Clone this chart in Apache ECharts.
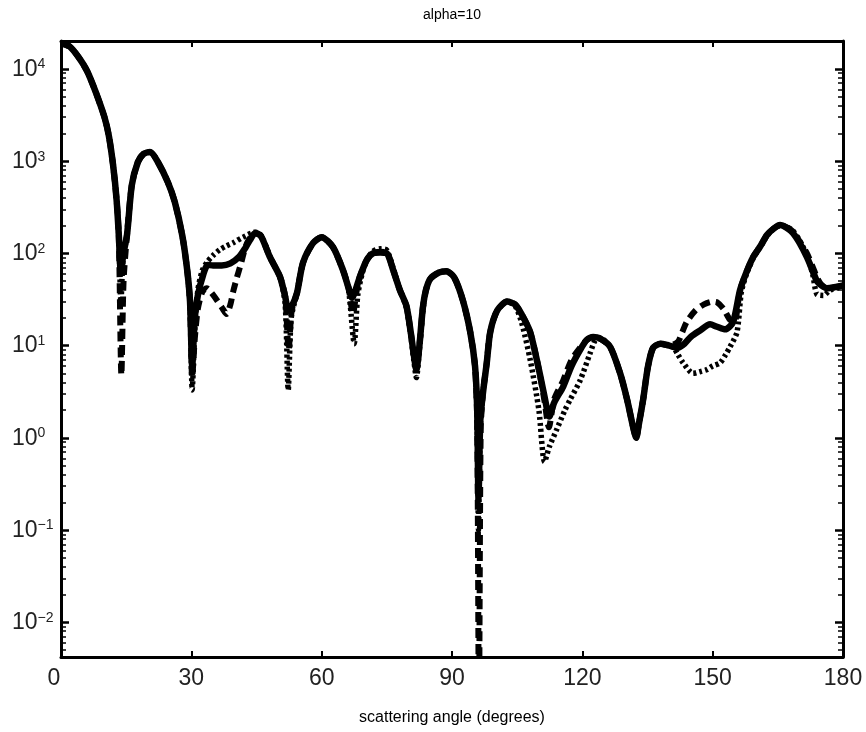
<!DOCTYPE html>
<html>
<head>
<meta charset="utf-8">
<script src="https://cdn.jsdelivr.net/npm/echarts@6/dist/echarts.min.js"></script>
<style>html,body{margin:0;padding:0;background:#fff}#chart{width:866px;height:732px}</style>
</head>
<body>
<div id="chart"></div>
<script>
// ---------------- data ----------------
const titleText = 'alpha=10';
const xAxisName = 'scattering angle (degrees)';
const xTickValues = [0, 30, 60, 90, 120, 150, 180];
const yMajorExponents = [-2, -1, 0, 1, 2, 3, 4];
const yMinorMultipliers = [2, 3, 4, 5, 6, 7, 8, 9];
const yMin = 0.0042, yMax = 20100;

const solidAngles = [
  0, 2, 4, 6, 8, 10, 11, 12, 12.8, 13.3,
  13.8, 14.3, 15.2, 16.3, 17.7, 19, 20.5, 22.3, 24.6, 26.2,
  27.9, 29, 29.7, 30.2, 30.8, 31.5, 32.7, 33.8, 35, 37,
  39, 41, 42.4, 43.5, 44.7, 46, 48.1, 50.4, 51.6, 52.3,
  53, 54.3, 55.7, 58, 60, 62.6, 64.9, 66.2, 67, 67.8,
  68.8, 70.4, 71.8, 73.5, 75, 76.5, 78, 79.5, 80.5, 81.2,
  81.8, 82.5, 83.3, 84, 85, 87, 88.7, 90.5, 92.5, 94.2,
  95.3, 95.8, 96.1, 96.5, 97.1, 98, 98.8, 100.4, 102.7, 104.5,
  106, 108, 110, 111.3, 112.4, 113.5, 115.6, 117.5, 119.5, 121,
  122.5, 124, 126.4, 128.7, 130.3, 131.7, 132.4, 133, 134, 135.1,
  136.3, 138, 140, 142, 143.5, 145, 147, 149.4, 151, 152.9,
  154.7, 156.3, 157.8, 159.3, 161, 162.5, 164, 165.5, 167, 168.5,
  170, 171.7, 173, 174, 175, 176.3, 178, 180
];
const solidValues = [
  19000, 17500, 13500, 9500, 5600, 3000, 1900, 900, 380, 160,
  60, 95, 160, 550, 980, 1200, 1260, 980, 590, 360,
  158, 69, 30, 6, 20, 35, 58, 75, 74, 74,
  78, 92, 114, 140, 166, 155, 91, 56, 34, 24,
  26, 37, 79, 129, 150, 117, 66, 42, 33, 40,
  56, 85, 100, 102, 100, 65, 40, 27, 14, 8,
  5.5, 10, 26, 40, 53, 62, 64, 55, 31, 14,
  6, 2, 0.22, 1.5, 3, 6.5, 14, 24, 30, 28,
  22, 14, 5.5, 2.8, 1.7, 2.4, 3.6, 6, 9, 11.5,
  12.4, 12, 9.7, 5, 2.6, 1.3, 1.0, 1.4, 2.6, 5.9,
  9.5, 10.5, 10, 9.5, 10.5, 12.5, 14.5, 17, 16, 15,
  18, 40, 63, 91, 120, 158, 185, 203, 190, 166,
  130, 91, 65, 50, 45, 42, 43, 45
];

const dashedAngles = [
  0, 2, 4, 6, 8, 10, 11, 12, 12.8, 13.3,
  13.9, 14.4, 15.2, 16.3, 17.7, 19, 20.5, 22.3, 24.6, 26.2,
  27.9, 29, 29.7, 30.2, 30.8, 31.5, 32.5, 33.5, 34.5, 35.5,
  37, 38.1, 39, 39.6, 40.5, 41.2, 42.8, 44.7, 46, 48.1,
  50.4, 51.6, 52.4, 53.1, 54.3, 55.7, 58, 60, 62.6, 64.9,
  66.2, 67.2, 68, 68.8, 70.4, 71.8, 73.5, 75, 76.5, 78,
  79.5, 80.5, 81.2, 81.8, 82.5, 83.3, 84, 85, 87, 88.7,
  90.5, 92.5, 94.2, 95.3, 95.8, 96.2, 96.6, 97.1, 98, 98.8,
  100.4, 102.7, 104.5, 106, 108, 110, 111.3, 112.3, 113.5, 115.6,
  117.5, 119.5, 121, 122.5, 124, 126.4, 128.7, 130.3, 131.7, 132.4,
  133, 134, 135.1, 136.3, 138, 140, 142, 143, 144, 146,
  148, 150, 151, 152.5, 154, 155, 156.3, 157.8, 159.3, 161,
  162.5, 164, 165.5, 167, 168.5, 170, 171.7, 173, 174, 175,
  176.3, 178, 180
];
const dashedValues = [
  19000, 17500, 13500, 9500, 5600, 3000, 1900, 900, 380, 160,
  4.8, 50, 160, 550, 980, 1200, 1260, 980, 590, 360,
  158, 69, 30, 4.5, 12, 25, 38, 42, 38, 33,
  26, 22, 28, 38, 55, 71, 129, 166, 155, 91,
  56, 34, 9, 24, 37, 79, 129, 150, 117, 66,
  42, 22, 38, 56, 85, 100, 104, 102, 65, 40,
  27, 14, 8, 5.5, 10, 26, 40, 53, 62, 64,
  55, 31, 14, 6, 1.5, 0.001, 1.2, 3, 6.5, 14,
  24, 30, 28, 22, 14, 5.5, 2.5, 1.3, 2.6, 4.2,
  7, 9.5, 11.5, 12.4, 12, 9.7, 5, 2.6, 1.3, 1.0,
  1.4, 2.6, 5.9, 9.5, 10.5, 10, 11, 14, 18, 24,
  28, 30, 29.5, 25, 19, 18, 40, 63, 91, 120,
  158, 185, 203, 192, 172, 135, 100, 72, 55, 46,
  42, 43, 45
];

const dottedAngles = [
  0, 2, 4, 6, 8, 10, 11, 12, 12.8, 13.3,
  13.8, 14.3, 15.2, 16.3, 17.7, 19, 20.5, 22.3, 24.6, 26.2,
  27.9, 29, 29.7, 30.2, 30.8, 31.5, 32.5, 33.6, 35, 36.6,
  38, 39.6, 41.9, 44.7, 46, 48.1, 50.4, 51.6, 52.3, 53,
  54.3, 55.7, 58, 60, 62.6, 64.9, 66.2, 67.5, 68.3, 69.3,
  70.4, 71.8, 73.5, 75, 76.5, 78, 79.5, 80.5, 81.2, 81.8,
  82.5, 83.3, 84, 85, 87, 88.7, 90.5, 92.5, 94.2, 95.3,
  95.8, 96.1, 96.5, 97.1, 98, 98.8, 100.4, 102.7, 104.5, 106,
  108, 110, 111.3, 112.4, 114, 116, 117.2, 119.5, 121.8, 123,
  124.2, 126.4, 128.7, 130.3, 131.7, 132.4, 133, 134, 135.1, 136.3,
  138, 140, 141, 142, 143.2, 145.5, 147, 148.7, 150, 151.7,
  153, 154, 155.6, 156.6, 157.8, 159.3, 161, 162.5, 164, 165.5,
  167, 168.5, 170, 171.7, 173, 174, 175.5, 177, 178.5, 180
];
const dottedValues = [
  19000, 17500, 13500, 9500, 5600, 3000, 1900, 900, 380, 160,
  30, 90, 160, 550, 980, 1200, 1260, 980, 590, 360,
  158, 69, 28, 3.3, 15, 40, 65, 80, 95, 110,
  120, 130, 150, 170, 158, 93, 55, 28, 3.3, 20,
  37, 79, 129, 150, 117, 66, 40, 10.5, 35, 60,
  85, 105, 112, 108, 68, 40, 26, 13, 7, 4.5,
  9, 24, 40, 53, 62, 64, 55, 31, 14, 6,
  1.5, 0.1, 1.2, 3, 6.5, 14, 24, 30, 27, 18,
  7, 2, 0.55, 0.8, 1.2, 2, 2.6, 4.2, 8.3, 11.5,
  12, 9.7, 5, 2.6, 1.3, 1.0, 1.4, 2.6, 5.9, 9.5,
  10.5, 10, 9.5, 8, 6.5, 5, 5.2, 5.5, 6, 6.5,
  8, 9.7, 14, 38, 60, 88, 118, 155, 185, 200,
  195, 175, 138, 95, 60, 36, 35, 40, 42, 44
];

// ---------------- chart ----------------
const FONT = '"Liberation Sans", Arial, Helvetica, sans-serif';
const yMinLog = Math.log10(yMin), yMaxLog = Math.log10(yMax);
const yMinorLogs = [];
for (let e = -3; e <= 4; e++) {
  yMinorMultipliers.forEach(k => {
    const v = k * Math.pow(10, e);
    if (v >= yMin && v <= yMax) yMinorLogs.push(Math.log10(v));
  });
}
const pairs = (xs, ys) => xs.map((x, i) => [x, ys[i]]);

const axisLine = { show: true, onZero: false, lineStyle: { color: '#000', width: 3 } };
const deco = (pos, values, len, w, labels) => ({
  type: 'value', position: pos, min: yMinLog, max: yMaxLog,
  axisLine: labels !== null && len > 6 ? axisLine : { show: false, onZero: false },
  axisTick: { show: true, inside: true, length: len, customValues: values,
              lineStyle: { color: '#000', width: w } },
  axisLabel: labels || { show: false },
  splitLine: { show: false }
});

const yLabel = {
  show: true, customValues: yMajorExponents, align: 'left', margin: 49,
  formatter: v => {
    const e = Math.round(v);
    return '{b|10}{s|' + (e < 0 ? '\u2212' + (-e) : String(e)) + '}';
  },
  rich: {
    b: { fontSize: 23, lineHeight: 23, padding: [6, 0, 5, 0], color: '#222', fontFamily: FONT },
    s: { fontSize: 14, lineHeight: 14, verticalAlign: 'top', color: '#222', fontFamily: FONT }
  }
};

const lineSeries = (name, xs, ys, width, dash) => ({
  name, type: 'line', xAxisIndex: 0, yAxisIndex: 0,
  data: pairs(xs, ys), showSymbol: false, symbol: 'none', clip: true, smooth: 0.25,
  lineStyle: { color: '#000', width, type: dash, join: 'round', cap: 'butt' },
  emphasis: { disabled: true }
});

const chart = echarts.init(document.getElementById('chart'), null, { renderer: 'canvas' });
chart.setOption({
  animation: false,
  backgroundColor: '#fff',
  title: {
    text: titleText, left: 452, top: 8, padding: 0, textAlign: 'center',
    textStyle: { fontSize: 14, fontWeight: 'normal', color: '#000', fontFamily: FONT }
  },
  grid: { left: 61, right: 23, top: 41, bottom: 75, containLabel: false, outerBoundsMode: 'none' },
  xAxis: [
    {
      type: 'value', position: 'bottom', min: 0, max: 180, interval: 30,
      axisLine: axisLine,
      axisTick: { show: true, inside: true, length: 6, lineStyle: { color: '#000', width: 2 } },
      axisLabel: {
        fontSize: 23, color: '#222', margin: 10, fontFamily: FONT,
        formatter: v => v === 0 ? '{z|0}' : String(v),
        rich: { z: { fontSize: 23, color: '#222', fontFamily: FONT, padding: [0, 14, 0, 0] } }
      },
      splitLine: { show: false },
      name: xAxisName, nameLocation: 'middle', nameGap: 53,
      nameTextStyle: { fontSize: 16, color: '#000', fontFamily: FONT }
    },
    {
      type: 'value', position: 'top', min: 0, max: 180, interval: 30,
      axisLine: axisLine,
      axisTick: { show: true, inside: true, length: 6, lineStyle: { color: '#000', width: 2 } },
      axisLabel: { show: false }, splitLine: { show: false }
    }
  ],
  yAxis: [
    { type: 'log', logBase: 10, min: yMin, max: yMax, show: false },
    deco('left', yMajorExponents, 8, 2.5, yLabel),
    deco('left', yMinorLogs, 5, 1.5, null),
    deco('right', yMajorExponents, 8, 2.5, { show: false }),
    deco('right', yMinorLogs, 5, 1.5, null)
  ],
  series: [
    lineSeries('dotted', dottedAngles, dottedValues, 5.5, [3, 3]),
    lineSeries('dashed', dashedAngles, dashedValues, 6, [10, 6]),
    lineSeries('solid', solidAngles, solidValues, 6.5, 'solid')
  ]
});
</script>
</body>
</html>
